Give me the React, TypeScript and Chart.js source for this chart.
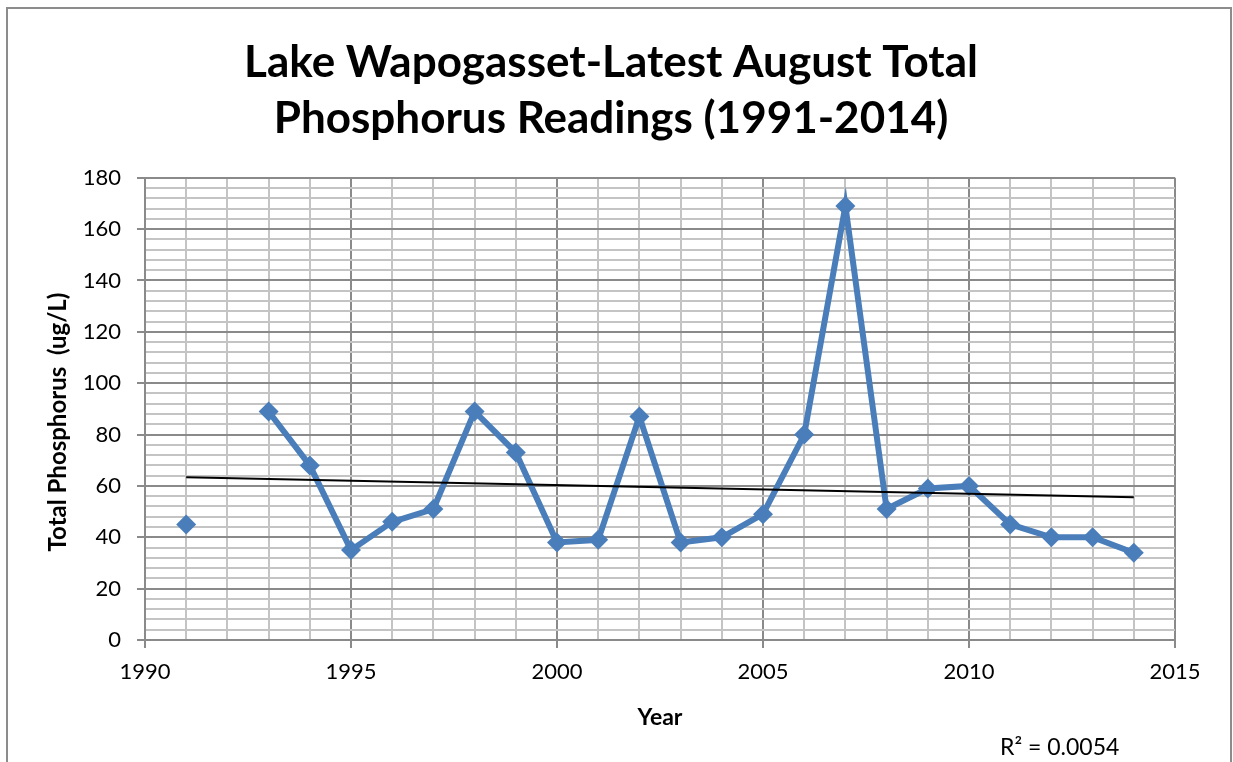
import React, { useEffect, useRef } from 'react';
import { Chart, registerables } from 'chart.js';

Chart.register(...registerables);

// ---- data ----
const years: number[] = [1991, 1992, 1993, 1994, 1995, 1996, 1997, 1998, 1999, 2000, 2001, 2002, 2003, 2004, 2005, 2006, 2007, 2008, 2009, 2010, 2011, 2012, 2013, 2014];
const phosphorus: (number | null)[] = [45, null, 89, 68, 35, 46, 51, 89, 73, 38, 39, 87, 38, 40, 49, 80, 169, 51, 59, 60, 45, 40, 40, 34];
const trendYears: number[] = [1991, 2014];
const trendValues: number[] = [63.4, 55.6];
const titleLines: string[] = ['Lake Wapogasset-Latest August Total', 'Phosphorus Readings (1991-2014)'];
const xAxisTitle = 'Year';
const yAxisTitle = 'Total Phosphorus  (ug/L)';
const rSquaredLabel = 'R² = 0.0054';
const xMin = 1990, xMax = 2015, xMajor = 5, xMinor = 1;
const yMin = 0, yMax = 180, yMajor = 20, yMinor = 4;

const FONT = 'Lato, "Open Sans", sans-serif';
const MAJOR = '#8a8a8a';
const MINOR = '#c4c4c4';
const BLUE = '#4a7ebb';

const framePlugin = {
  id: 'frame',
  beforeDraw(chart: any) {
    const { ctx, width, height } = chart;
    ctx.save();
    ctx.fillStyle = '#ffffff';
    ctx.fillRect(0, 0, width, height);
    ctx.strokeStyle = '#8c8c8c';
    ctx.lineWidth = 2;
    ctx.beginPath();
    ctx.moveTo(7, height);
    ctx.lineTo(7, 8);
    ctx.lineTo(1231, 8);
    ctx.lineTo(1231, height);
    ctx.stroke();
    ctx.restore();
  },
  afterDraw(chart: any) {
    const { ctx } = chart;
    ctx.save();
    ctx.fillStyle = '#000000';
    // y axis title
    ctx.font = `bold 24px ${FONT}`;
    ctx.textAlign = 'center';
    ctx.textBaseline = 'middle';
    ctx.translate(58, 422);
    ctx.rotate(-Math.PI / 2);
    ctx.fillText(yAxisTitle, 0, 0);
    ctx.restore();
    ctx.save();
    ctx.fillStyle = '#000000';
    ctx.font = `23px ${FONT}`;
    ctx.textAlign = 'left';
    ctx.textBaseline = 'alphabetic';
    ctx.fillText(rSquaredLabel, 1000, 755);
    ctx.restore();
  },
};

export default function App() {
  const ref = useRef<HTMLCanvasElement | null>(null);
  useEffect(() => {
    if (!ref.current) return;
    const chart = new Chart(ref.current, {
      type: 'line',
      data: {
        datasets: [
          {
            label: 'Total Phosphorus',
            data: years.map((y, i) => ({ x: y, y: phosphorus[i] })) as any,
            borderColor: BLUE,
            backgroundColor: BLUE,
            borderWidth: 6,
            pointStyle: 'rectRot',
            pointRadius: 10,
            pointBorderWidth: 0,
            pointBackgroundColor: BLUE,
            spanGaps: false,
            tension: 0,
            order: 2,
          },
          {
            label: 'Linear trend',
            data: trendYears.map((y, i) => ({ x: y, y: trendValues[i] })) as any,
            borderColor: '#000000',
            borderWidth: 2,
            pointRadius: 0,
            order: 1,
          },
        ],
      },
      options: {
        animation: false,
        responsive: true,
        maintainAspectRatio: false,
        layout: { padding: { left: 47, right: 58, top: 0, bottom: 0 } },
        plugins: {
          legend: { display: false },
          tooltip: { enabled: false },
          title: {
            display: true,
            text: titleLines,
            color: '#000000',
            font: { family: FONT, size: 44, weight: 'bold', lineHeight: 1.27 },
            padding: { top: 35, bottom: 31 },
          },
        },
        scales: {
          x: {
            type: 'linear',
            min: xMin,
            max: xMax,
            afterFit(scale: any) { scale.height = 122; },
            ticks: {
              stepSize: xMinor,
              autoSkip: false,
              maxRotation: 0,
              maxTicksLimit: 100,
              padding: 11,
              color: '#000000',
              font: { family: FONT, size: 22 },
              callback: (v: any) => (Number(v) % xMajor === 0 ? String(v) : ''),
            },
            grid: {
              color: (c: any) => (c.tick && c.tick.value % xMajor === 0 ? MAJOR : MINOR),
              lineWidth: 2,
              tickLength: 8,
              tickColor: (c: any) => (c.tick && c.tick.value % xMajor === 0 ? MAJOR : 'rgba(0,0,0,0)'),
            },
            border: { color: MAJOR, width: 2 },
            title: {
              display: true,
              text: xAxisTitle,
              color: '#000000',
              font: { family: FONT, size: 23, weight: 'bold', lineHeight: 1.2 },
              padding: { top: 0, bottom: 31 },
            },
          },
          y: {
            type: 'linear',
            min: yMin,
            max: yMax,
            afterFit(scale: any) { scale.width = 98; },
            ticks: {
              stepSize: yMinor,
              autoSkip: false,
              maxTicksLimit: 100,
              padding: 16,
              color: '#000000',
              font: { family: FONT, size: 22 },
              callback: (v: any) => (Number(v) % yMajor === 0 ? String(v) : ''),
            },
            grid: {
              color: (c: any) => (c.tick && c.tick.value % yMajor === 0 ? MAJOR : MINOR),
              lineWidth: 2,
              tickLength: 8,
              tickColor: (c: any) => (c.tick && c.tick.value % yMajor === 0 ? MAJOR : 'rgba(0,0,0,0)'),
            },
            border: { color: MAJOR, width: 2 },
          },
        },
      },
      plugins: [framePlugin],
    });
    return () => chart.destroy();
  }, []);
  return (
    <div style={{ position: 'fixed', left: 0, top: 0, width: 1233, height: 762 }}>
      <canvas ref={ref} />
    </div>
  );
}
